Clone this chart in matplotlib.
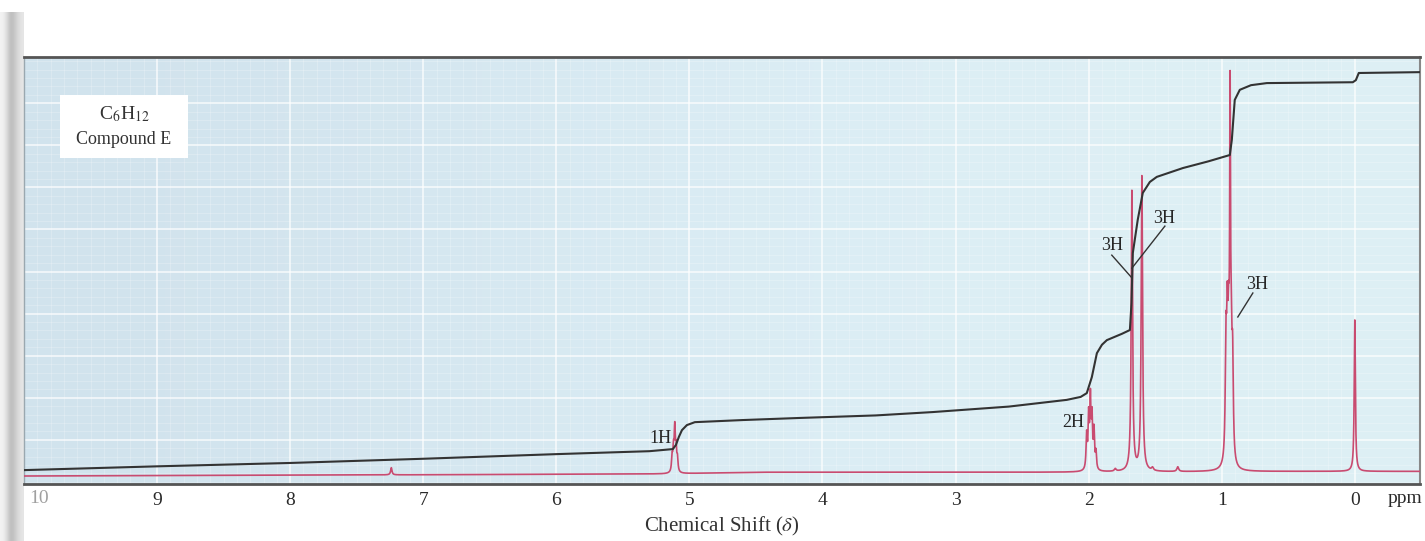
import numpy as np
import matplotlib
matplotlib.use("Agg")
import matplotlib.pyplot as plt
from matplotlib.patches import Rectangle

plt.rcParams['mathtext.fontset'] = 'stix'
plt.rcParams['font.family'] = ['Liberation Serif', 'DejaVu Serif']

# ---------------- data ----------------
tick_values = [9, 8, 7, 6, 5, 4, 3, 2, 1, 0]
tick_labels = ['9', '8', '7', '6', '5', '4', '3', '2', '1', '0']

# individual lines of the spectrum (ppm, height above baseline, half width)
peak_ppm = [7.24, 5.13, 5.12, 5.11, 5.10, 5.09,
            2.015, 2.00, 1.987, 1.975, 1.96, 1.945,
            1.80, 1.675, 1.60, 1.52, 1.33,
            0.968, 0.958, 0.948, 0.937, 0.928, 0.918, 0.0]
peak_height = [1.7, 3.5, 5.0, 10.0, 5.0, 3.0,
               8.0, 12.0, 16.0, 11.5, 9.0, 4.0,
               0.6, 66.5, 70.0, 0.7, 1.1,
               26.0, 28.0, 24.0, 78.0, 22.0, 22.0, 36.0]
peak_width = [0.006, 0.005, 0.005, 0.005, 0.005, 0.005,
              0.005, 0.005, 0.005, 0.005, 0.005, 0.005,
              0.008, 0.006, 0.006, 0.008, 0.008,
              0.006, 0.006, 0.006, 0.004, 0.006, 0.006, 0.005]

baseline_ppm = [10.0, 7.0, 5.2, 4.5, 2.2, 0.5, -0.49]
baseline_level = [1.4, 1.7, 1.9, 2.3, 2.3, 2.5, 2.5]

# integration trace (ppm, level)
integral_ppm = [10.0, 9.0, 8.0, 7.0, 6.0, 5.3, 5.124, 5.101, 5.079, 5.056,
                5.019, 4.959, 4.6, 4.17, 3.6, 3.171, 2.6, 2.164, 2.06, 2.014,
                1.976, 1.938, 1.9, 1.863, 1.75, 1.69, 1.678, 1.668, 1.631,
                1.593, 1.54, 1.488, 1.292, 1.1, 0.939, 0.924, 0.902, 0.864,
                0.78, 0.661, 0.015, -0.008, -0.03, -0.49]
integral_level = [2.8, 3.7, 4.5, 5.5, 6.6, 7.3, 7.8, 8.8, 10.7, 12.3,
                  13.5, 14.2, 14.7, 15.2, 15.8, 16.6, 17.9, 19.5, 20.2, 21.1,
                  24.9, 30.6, 32.6, 33.7, 35.2, 36.1, 42.5, 54.4, 62.3,
                  68.7, 71.3, 72.5, 74.6, 76.2, 77.7, 81.3, 90.8, 93.2,
                  94.3, 94.8, 95.0, 95.5, 97.2, 97.4]

# ---------------- figure ----------------
W, H = 1425, 541
fig = plt.figure(figsize=(W / 100, H / 100), dpi=100)
fig.patch.set_facecolor('white')

# scanned page shadow at the left edge
sh = fig.add_axes([0, 0, 24 / W, 529 / H])
shade = np.array([0.95, 0.92, 0.84, 0.74, 0.76, 0.82, 0.87, 0.90])
sh.imshow(np.tile(shade, (2, 1)), cmap='gray', vmin=0, vmax=1,
          aspect='auto', extent=[0, 1, 0, 1], interpolation='bicubic')
sh.set_axis_off()

ax = fig.add_axes([24 / W, 57 / H, 1396 / W, 427 / H])
ax.set_xlim(10.0, -0.49)
ax.set_ylim(-0.5, 101)

# paper background (slightly greyer at the left)
bg = np.zeros((2, 3, 3))
bg[:, 0] = [0.82, 0.89, 0.93]
bg[:, 1] = [0.86, 0.93, 0.96]
bg[:, 2] = [0.87, 0.94, 0.96]
ax.imshow(bg, extent=[0, 1, 0, 1], transform=ax.transAxes, aspect='auto',
          interpolation='bicubic', zorder=0)

# chart-paper grid
ax.set_xticks(tick_values)
ax.set_xticks(np.arange(0, 10.01, 0.1), minor=True)
ax.set_yticks(np.arange(10, 100, 10))
ax.set_yticks(np.arange(0, 101, 2), minor=True)
ax.grid(which='major', color='white', lw=1.3, alpha=0.7, zorder=1)
ax.grid(which='minor', color='white', lw=0.6, alpha=0.25, zorder=1)
ax.set_axisbelow(True)

# spectrum
x = np.linspace(10.0, -0.49, 40000)
y = np.interp(x, baseline_ppm[::-1], baseline_level[::-1])
for p, h, w in zip(peak_ppm, peak_height, peak_width):
    y = y + h / (1 + ((x - p) / w) ** 2)
ax.plot(x, y, color='#c94b70', lw=1.2, zorder=3)

# integral trace
ax.plot(integral_ppm, integral_level, color='#333333', lw=1.5, zorder=4,
        solid_joinstyle='round')

# integration labels with leader lines
lab_kw = dict(fontsize=13, color='#262626', ha='center', va='center', zorder=5)
ax.text(5.214, 10.2, '1H', **lab_kw)
ax.text(2.119, 14.2, '2H', **lab_kw)
ax.text(1.826, 56.3, '3H', **lab_kw)
ax.plot([1.826, 1.675], [53.9, 48.5], color='#333333', lw=1.0, zorder=5)
ax.text(1.435, 62.7, '3H', **lab_kw)
ax.plot([1.427, 1.675], [60.8, 50.8], color='#333333', lw=1.0, zorder=5)
ax.text(0.736, 47.0, '3H', **lab_kw)
ax.plot([0.766, 0.879], [44.9, 39.2], color='#333333', lw=1.0, zorder=5)

# compound box
ax.add_patch(Rectangle((0.0258, 0.763), 0.0917, 0.148, transform=ax.transAxes,
                       facecolor='white', edgecolor='none', zorder=5))
ax.text(0.0716, 0.866, r'C$_6$H$_{12}$', transform=ax.transAxes, fontsize=14,
        ha='center', va='center', color='#333333', zorder=6)
ax.text(0.0716, 0.806, 'Compound E', transform=ax.transAxes, fontsize=13,
        ha='center', va='center', color='#333333', zorder=6)

# axes styling
ax.set_xticklabels(tick_labels, fontsize=14, color='#2a2a2a')
ax.tick_params(axis='x', which='both', length=0, pad=6)
ax.tick_params(axis='y', which='both', length=0, labelleft=False)
for s in ['top', 'bottom']:
    ax.spines[s].set_color('#555555')
    ax.spines[s].set_linewidth(2.0)
ax.spines['right'].set_color('#888888')
ax.spines['right'].set_linewidth(1.5)
ax.spines['left'].set_color('#9aa8b0')
ax.spines['left'].set_linewidth(1.0)

trans = ax.get_xaxis_transform()
ax.text(9.89, -0.034, '10', transform=trans, fontsize=14, color='#a0a0a0',
        ha='center', va='center')
ax.text(-0.375, -0.034, 'ppm', transform=trans, fontsize=14, color='#2a2a2a',
        ha='center', va='center')
ax.set_xlabel(r'Chemical Shift ($\delta$)', fontsize=15, color='#333333',
              labelpad=4)

fig.savefig('out.png', dpi=100)
